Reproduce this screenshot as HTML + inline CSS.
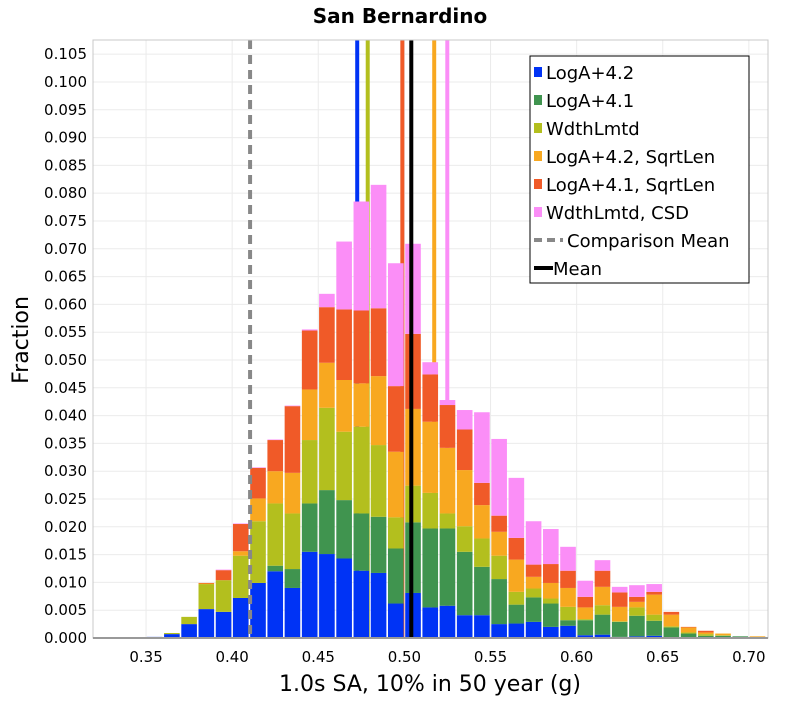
<!DOCTYPE html>
<html><head><meta charset="utf-8"><style>
body{margin:0;background:#fff;font-family:"Liberation Sans","DejaVu Sans",sans-serif;}
svg text{font-family:"DejaVu Sans","Liberation Sans",sans-serif;}
</style></head><body>
<svg id="chart" width="800" height="700" xmlns="http://www.w3.org/2000/svg">
<text x="400" y="23" text-anchor="middle" font-size="20" font-weight="bold">San Bernardino</text>
<text transform="translate(28,340) rotate(-90)" text-anchor="middle" font-size="22">Fraction</text>
<text x="430" y="691" text-anchor="middle" font-size="22">1.0s SA, 10% in 50 year (g)</text>
<g id="grid"></g><g id="back"></g><g id="bars"></g><g id="front"></g><g id="axes"></g><g id="legend"></g>
</svg>
<script>
const binStarts=[0.35,0.36,0.37,0.38,0.39,0.40,0.41,0.42,0.43,0.44,0.45,0.46,0.47,0.48,0.49,0.50,0.51,0.52,0.53,0.54,0.55,0.56,0.57,0.58,0.59,0.60,0.61,0.62,0.63,0.64,0.65,0.66,0.67,0.68,0.69,0.70];
const binWidth=0.01;
// stacked (cumulative) tops of each series
const cumLogA42=[.0002,.0007,.0025,.0052,.0047,.0072,.0099,.0120,.0090,.0155,.0151,.0143,.0121,.0117,.0062,.0081,.0055,.0058,.0041,.0041,.0025,.0026,.0029,.0020,.0022,.0005,.0006,.0002,.0003,.0004,0,0,0,0,0,0];
const cumLogA41=[.0002,.0007,.0025,.0052,.0047,.0072,.0099,.0130,.0124,.0242,.0266,.0248,.0224,.0218,.0161,.0208,.0197,.0197,.0155,.0128,.0106,.0060,.0073,.0062,.0032,.0032,.0042,.0029,.0040,.0031,.0019,.0008,.0004,.0004,.0003,0];
const cumWdth=[.0002,.0009,.0038,.0097,.0104,.0148,.0210,.0242,.0224,.0356,.0414,.0371,.0380,.0347,.0217,.0274,.0261,.0224,.0201,.0179,.0148,.0083,.0089,.0071,.0056,.0034,.0059,.0030,.0055,.0042,.0021,.0010,.0007,.0005,.0003,0];
const cumLogA42Sq=[.0002,.0009,.0038,.0098,.0104,.0156,.0251,.0300,.0297,.0447,.0495,.0464,.0458,.0471,.0335,.0412,.0389,.0342,.0302,.0239,.0191,.0141,.0110,.0099,.0090,.0055,.0092,.0056,.0065,.0078,.0042,.0019,.0010,.0008,.0003,.0003];
const cumLogA41Sq=[.0002,.0009,.0038,.0099,.0122,.0205,.0306,.0356,.0417,.0553,.0595,.0591,.0589,.0593,.0453,.0547,.0474,.0419,.0375,.0279,.0220,.0180,.0132,.0133,.0121,.0074,.0121,.0082,.0074,.0083,.0047,.0020,.0013,.0008,.0003,.0003];
const cumWdthCSD=[.0002,.0009,.0038,.0099,.0123,.0206,.0307,.0357,.0418,.0555,.0619,.0713,.0785,.0815,.0674,.0709,.0496,.0428,.0410,.0406,.0358,.0288,.0210,.0196,.0164,.0103,.0140,.0092,.0095,.0097,.0047,.0020,.0013,.0008,.0003,.0003];
const seriesNames=["LogA+4.2","LogA+4.1","WdthLmtd","LogA+4.2, SqrtLen","LogA+4.1, SqrtLen","WdthLmtd, CSD"];
const seriesColors=["#0033f5","#40944f","#b3bf1e","#f8a820","#f05a28","#fb8ef7"];
const meanValues=[0.4726,0.4787,0.5173,0.4988,0.5249];
const meanColors=["#0033f5","#b3bf1e","#f8a820","#f05a28","#fb8ef7"];
const comparisonMean=0.4104;
const overallMean=0.5040;
const yTicks=[0,0.005,0.01,0.015,0.02,0.025,0.03,0.035,0.04,0.045,0.05,0.055,0.06,0.065,0.07,0.075,0.08,0.085,0.09,0.095,0.1,0.105];
const xTicks=[0.35,0.40,0.45,0.50,0.55,0.60,0.65,0.70];

const L=93,R=768,T=40,B=638,xMin=0.3192,xMax=0.7111,yMax=0.10755;
const X=v=>L+(v-xMin)/(xMax-xMin)*(R-L);
const Y=v=>B-v/yMax*(B-T);
const NS="http://www.w3.org/2000/svg";
function mk(tag,parent,attrs){const e=document.createElementNS(NS,tag);for(const k in attrs)e.setAttribute(k,attrs[k]);parent.appendChild(e);return e;}
const grid=document.getElementById('grid'),back=document.getElementById('back'),bars=document.getElementById('bars'),front=document.getElementById('front'),axes=document.getElementById('axes'),legend=document.getElementById('legend');

yTicks.forEach(t=>{
  const g=mk('line',grid,{x1:L,x2:R,y1:Y(t),y2:Y(t),stroke:'#ebebeb','stroke-width':1});
  
  
  const tx=mk('text',axes,{x:L-6,y:Y(t)+5,'text-anchor':'end','font-size':15});
  tx.textContent=t.toFixed(3);
  
  
});
xTicks.forEach(t=>{
  const g=mk('line',grid,{x1:X(t),x2:X(t),y1:T,y2:B,stroke:'#ebebeb','stroke-width':1});
  
  
  const tx=mk('text',axes,{x:X(t),y:B+24,'text-anchor':'middle','font-size':15});
  tx.textContent=t.toFixed(2);
  
  
});
meanValues.forEach((m,i)=>{
  const l=mk('line',back,{x1:X(m),x2:X(m),y1:T,y2:B,stroke:meanColors[i],'stroke-width':4});
  
  
});
const cums=[cumLogA42,cumLogA41,cumWdth,cumLogA42Sq,cumLogA41Sq,cumWdthCSD];
binStarts.forEach((b,i)=>{
  const x0=X(b)+0.8,x1=X(b+binWidth)-0.8;
  let prev=0;
  cums.forEach((c,s)=>{
    const top=Math.max(prev,c[i]);
    if(top>prev){
      const r=mk('rect',bars,{x:x0,y:Y(top),width:x1-x0,height:Y(prev)-Y(top),fill:seriesColors[s]});
      
      
    }
    prev=top;
  });
});
const cm=mk('line',front,{x1:X(comparisonMean),x2:X(comparisonMean),y1:T,y2:B,stroke:'#888','stroke-width':4,'stroke-dasharray':'9,6'});


const om=mk('line',front,{x1:X(overallMean),x2:X(overallMean),y1:T,y2:B,stroke:'#000','stroke-width':4});


const fr=mk('rect',axes,{x:L,y:T,width:R-L,height:B-T,fill:'none',stroke:'#c8c8c8','stroke-width':1});


const ax=mk('line',axes,{x1:L,x2:R,y1:B,y2:B,stroke:'#999','stroke-width':2});



const lb=mk('rect',legend,{x:530,y:56,width:219,height:227,fill:'#fff',stroke:'#000','stroke-width':1});


seriesNames.forEach((n,i)=>{
  const y=72+i*28;
  const sw=mk('rect',legend,{x:534,y:y-5,width:8,height:10,fill:seriesColors[i]});
  
  
  const t=mk('text',legend,{x:546,y:y+7,'font-size':18});
  t.textContent=n;
  
  
});
const y6=72+6*28;
const dl=mk('line',legend,{x1:534,x2:563,y1:y6,y2:y6,stroke:'#888','stroke-width':4,'stroke-dasharray':'8,5'});


const t6=mk('text',legend,{x:567,y:y6+7,'font-size':18});
t6.textContent='Comparison Mean';


const y7=72+7*28;
const ml=mk('line',legend,{x1:534,x2:553,y1:y7,y2:y7,stroke:'#000','stroke-width':4});


const t7=mk('text',legend,{x:553,y:y7+7,'font-size':18});
t7.textContent='Mean';


</script>
</body></html>
